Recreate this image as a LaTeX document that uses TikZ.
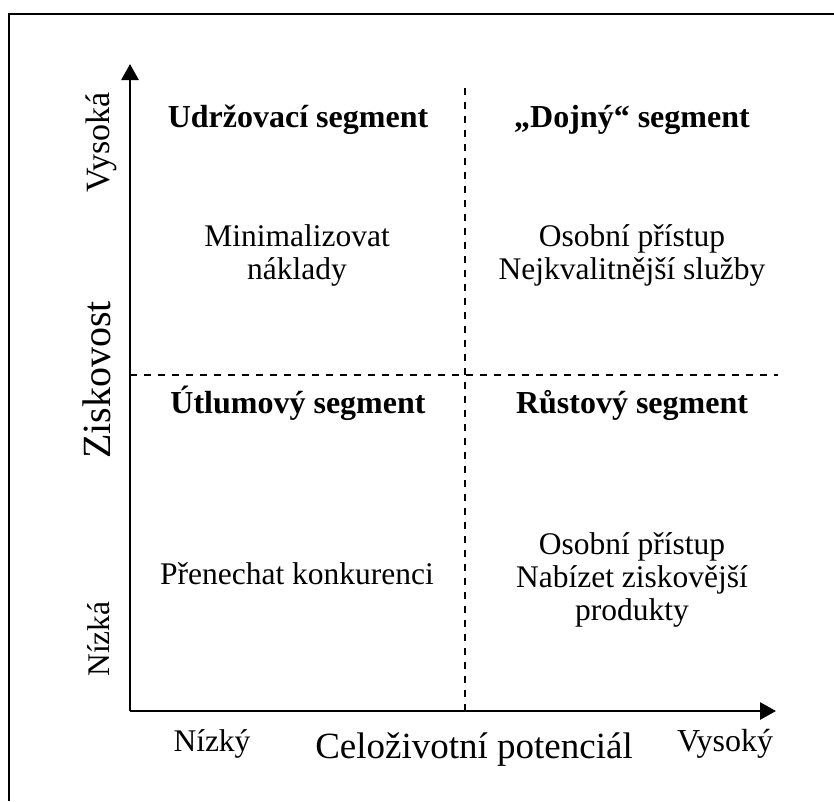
\documentclass[tikz,border=0pt]{standalone}
\usepackage{fontspec}
\setmainfont{Liberation Serif}
\usetikzlibrary{arrows.meta}
\begin{document}
\begin{tikzpicture}[x=1pt,y=-1pt,
  frame/.style={line width=2pt},
  axis/.style={line width=2.8pt,-{Triangle[length=16pt,width=17pt]}},
  divider/.style={line width=1.4pt,dash pattern=on 7pt off 7pt},
  body/.style={anchor=base,inner sep=0pt,font=\fontsize{31.5}{34}\selectfont},
  head/.style={body,font=\fontsize{32}{35}\selectfont\bfseries},
  tick/.style={anchor=base,inner sep=0pt,font=\fontsize{31.5}{34}\selectfont},
  title/.style={anchor=base,inner sep=0pt,font=\fontsize{38.5}{42}\selectfont}]
\useasboundingbox (0,0) rectangle (834,801);
% outer frame (top and left edges)
\coordinate (fbl) at (9,801);
\coordinate (ftl) at (9,14);
\coordinate (ftr) at (834,14);
\draw[frame] (fbl) -- (ftl) -- (ftr);
% axes
\coordinate (O) at (130,711);
\coordinate (ytop) at (130,64);
\coordinate (xend) at (776,711);
\draw[axis] (O) -- (ytop);
\draw[axis] (O) -- (xend);
% quadrant dividers
\coordinate (vtop) at (465,88);
\coordinate (vbot) at (465,711);
\coordinate (hl) at (130,375);
\coordinate (hr) at (778,375);
\draw[divider] (vtop) -- (vbot);
\draw[divider] (hl) -- (hr);
% quadrant texts
\node[head] (q1h) at (298,127) {Udržovací segment};
\node[head] (q2h) at (632,127) {„Dojný“ segment};
\node[body] (q1a) at (297,246) {Minimalizovat};
\node[body] (q1b) at (297,279) {náklady};
\node[body] (q2a) at (632,246) {Osobní přístup};
\node[body] (q2b) at (632,279) {Nejkvalitnější služby};
\node[head] (q3h) at (298,413) {Útlumový segment};
\node[head] (q4h) at (632,413) {Růstový segment};
\node[body] (q3a) at (297,584) {Přenechat konkurenci};
\node[body] (q4a) at (632,554) {Osobní přístup};
\node[body] (q4b) at (632,587) {Nabízet ziskovější};
\node[body] (q4c) at (632,620) {produkty};
% axis labels
\node[tick,rotate=90,font=\fontsize{34}{37}\selectfont] (yhi) at (109,142) {Vysoká};
\node[title,rotate=90,font=\fontsize{40}{44}\selectfont] (ytitle) at (110,380) {Ziskovost};
\node[tick,rotate=90] (ylo) at (109,639) {Nízká};
\node[tick] (xlo) at (212,751) {Nízký};
\node[title,font=\fontsize{37}{41}\selectfont] (xtitle) at (474,758) {Celoživotní potenciál};
\node[tick,font=\fontsize{32}{35}\selectfont] (xhi) at (725,751) {Vysoký};
\end{tikzpicture}
\end{document}
